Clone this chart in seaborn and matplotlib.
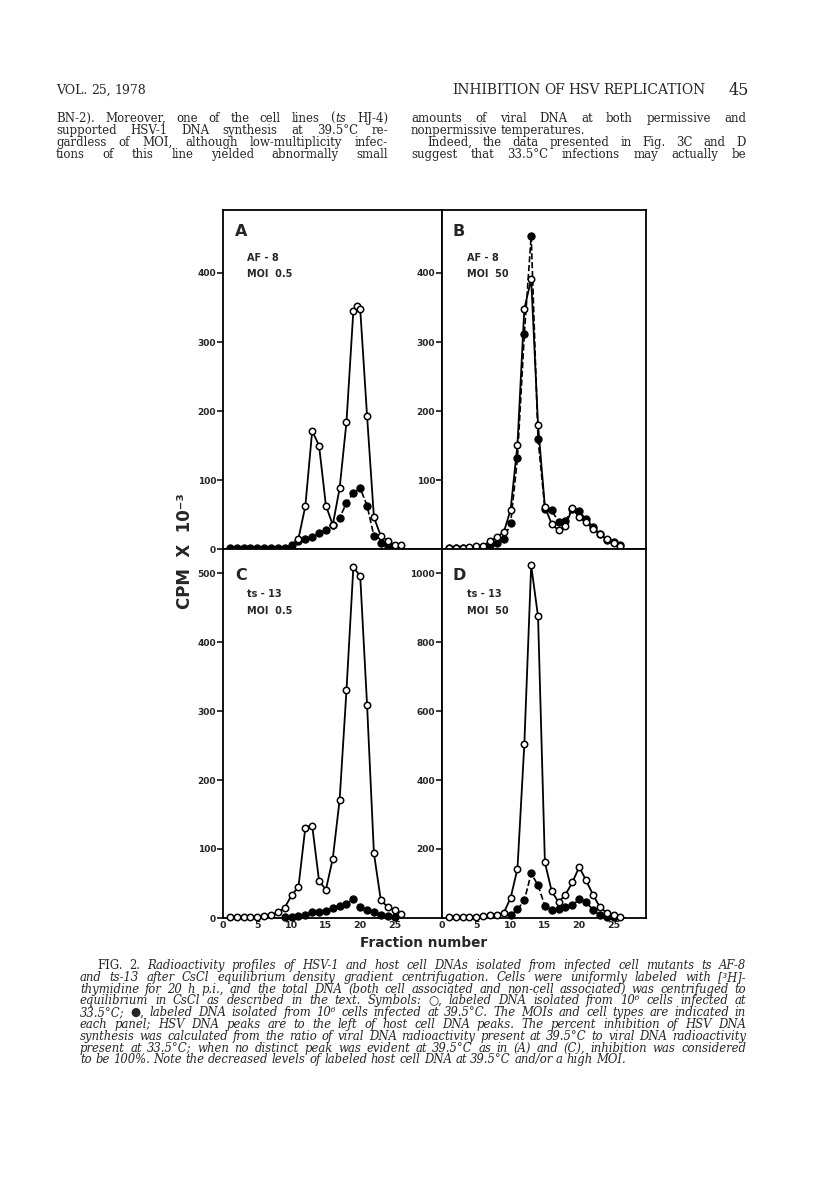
import matplotlib
matplotlib.use("Agg")
import matplotlib.pyplot as plt
import seaborn as sns
import pandas as pd

# ---------------- data ----------------
frac_A_open = [11, 12, 13, 14, 15, 16, 17, 18, 19, 19.5, 20, 21, 22, 23, 24, 25, 26]
cpm_A_open = [15, 62, 171, 150, 63, 35, 88, 184, 345, 352, 348, 193, 46, 19, 12, 6, 6]
frac_A_filled = list(range(1, 26))
cpm_A_filled = [1, 1, 1, 1, 1, 1, 1, 1, 2, 6, 11, 14, 18, 23, 27, 35, 45, 67, 81, 88, 63, 19, 9, 5, 2]

frac_B = list(range(1, 27))
cpm_B_open = [1, 1, 2, 3, 4, 5, 11, 18, 24, 57, 151, 348, 391, 180, 61, 36, 27, 34, 59, 46, 39, 29, 22, 14, 9, 5]
cpm_B_filled = [1, 1, 1, 2, 2, 3, 6, 8, 14, 37, 132, 311, 454, 159, 58, 56, 39, 41, 58, 55, 43, 32, 22, 13, 10, 6]

frac_C_open = list(range(1, 27))
cpm_C_open = [1, 1, 1, 1, 2, 3, 5, 8, 15, 33, 45, 131, 134, 54, 41, 86, 171, 330, 508, 496, 309, 94, 26, 16, 11, 6]
frac_C_filled = list(range(9, 26))
cpm_C_filled = [1, 2, 3, 5, 8, 9, 10, 15, 18, 21, 28, 16, 12, 9, 5, 3, 2]

frac_D_open = list(range(1, 27))
cpm_D_open = [3, 3, 3, 3, 4, 5, 8, 10, 15, 58, 143, 503, 1022, 874, 161, 77, 46, 68, 103, 148, 109, 68, 32, 15, 10, 3]
frac_D_filled = list(range(10, 26))
cpm_D_filled = [8, 25, 51, 129, 95, 35, 22, 27, 32, 37, 54, 46, 24, 8, 3, 2]

yticks_A = [0, 100, 200, 300, 400]
yticks_B = [100, 200, 300, 400]
yticks_C = [0, 100, 200, 300, 400, 500]
yticks_D = [200, 400, 600, 800, 1000]
xticks = [0, 5, 10, 15, 20, 25]

panel_letters = ["A", "B", "C", "D"]
panel_strain = ["AF - 8", "AF - 8", "ts - 13", "ts - 13"]
panel_moi = ["MOI  0.5", "MOI  50", "MOI  0.5", "MOI  50"]

# ---------------- style ----------------
sns.set_theme(style="white")
plt.rcParams["font.family"] = ["DejaVu Sans"]
SERIF = ["DejaVu Serif", "DejaVu Sans"]
SANS = ["DejaVu Sans"]

W, H = 816, 1194
fig = plt.figure(figsize=(W / 100, H / 100), dpi=100)
fig.patch.set_facecolor("white")
renderer = fig.canvas.get_renderer()


def fx(x):
    return x / W


def fy(y):
    return 1 - y / H


def put_line(x0, y, text, x1=None, size=8, family=SERIF, base_italic=False, weight="normal",
             min_gap=2.5, seg_pad=1.2):
    words = [w for w in text.split(" ") if w != ""]
    while True:
        italic = base_italic
        objs, widths = [], []
        for w in words:
            parts = w.split("_")
            wo, ww = [], 0.0
            for i, p in enumerate(parts):
                if i > 0:
                    italic = not italic
                if p:
                    t = fig.text(0, fy(y), p, fontsize=size, family=family,
                                 style="italic" if italic else "normal",
                                 weight=weight, va="baseline", ha="left")
                    wdt = t.get_window_extent(renderer).width
                    if wo:
                        ww += seg_pad
                    wo.append((t, wdt))
                    ww += wdt
            objs.append(wo)
            widths.append(ww)
        total = sum(widths)
        n = len(objs)
        if x1 is not None and n > 1:
            gap = (x1 - x0 - total) / (n - 1)
            if gap < min_gap:
                for wo in objs:
                    for t, _ in wo:
                        t.remove()
                size *= 0.97
                continue
        else:
            gap = size * 100 / 72 * 0.3
        break
    x = x0
    for wo, ww in zip(objs, widths):
        for k, (t, wdt) in enumerate(wo):
            if k > 0:
                x += seg_pad
            t.set_x(fx(x))
            x += wdt
        x += gap


# ---------------- page header and body text ----------------
put_line(56, 94, "VOL. 25, 1978", size=9)
put_line(452, 94, "INHIBITION OF HSV REPLICATION", x1=706, size=10)
put_line(729, 95, "45", size=11.5)

BODY = 8.5
BODY_Y = [122, 134, 146, 158]
left_lines = [
    "BN-2). Moreover, one of the cell lines (_ts_ HJ-4)",
    "supported HSV-1 DNA synthesis at 39.5°C re-",
    "gardless of MOI, although low-multiplicity infec-",
    "tions of this line yielded abnormally small",
]
for ln, yy in zip(left_lines, BODY_Y):
    put_line(56, yy, ln, x1=388, size=BODY)

put_line(411, BODY_Y[0], "amounts of viral DNA at both permissive and", x1=746, size=BODY)
put_line(411, BODY_Y[1], "nonpermissive temperatures.", size=BODY)
put_line(427, BODY_Y[2], "Indeed, the data presented in Fig. 3C and D", x1=746, size=BODY)
put_line(411, BODY_Y[3], "suggest that 33.5°C infections may actually be", x1=746, size=BODY)

# ---------------- caption ----------------
caption = [
    "_FIG. 2._ Radioactivity profiles of HSV-1 and host cell DNAs isolated from infected cell mutants ts AF-8",
    "and ts-13 after CsCl equilibrium density gradient centrifugation. Cells were uniformly labeled with [³H]-",
    "thymidine for 20 h p.i., and the total DNA (both cell associated and non-cell associated) was centrifuged to",
    "equilibrium in CsCl as described in the text. Symbols: _○,_ labeled DNA isolated from 10⁶ cells infected at",
    "33.5°C; _●,_ labeled DNA isolated from 10⁶ cells infected at 39.5°C. The MOIs and cell types are indicated in",
    "each panel; HSV DNA peaks are to the left of host cell DNA peaks. The percent inhibition of HSV DNA",
    "synthesis was calculated from the ratio of viral DNA radioactivity present at 39.5°C to viral DNA radioactivity",
    "present at 33.5°C; when no distinct peak was evident at 39.5°C as in (A) and (C), inhibition was considered",
    "to be 100%. Note the decreased levels of labeled host cell DNA at 39.5°C and/or a high MOI.",
]
cap_y = [969 + 11.8 * i for i in range(len(caption))]
for i, (ln, yy) in enumerate(zip(caption, cap_y)):
    x0 = 97 if i == 0 else 80
    x1 = None if i == len(caption) - 1 else 746
    put_line(x0, yy, ln, x1=x1, size=8.4, base_italic=True)

# ---------------- axes ----------------
L, M, R = 223, 442, 646
T, MID, B = 210, 549, 918
PX_PER_FRAC = 6.86


def px_axes(l, t, r, b):
    return fig.add_axes([fx(l), fy(b), (r - l) / W, (b - t) / H])


axA = px_axes(L, T, M, MID)
axB = px_axes(M, T, R, MID)
axC = px_axes(L, MID, M, B)
axD = px_axes(M, MID, R, B)

panels = [
    (axA, frac_A_open, cpm_A_open, frac_A_filled, cpm_A_filled, 339 / 0.69, yticks_A, False),
    (axB, frac_B, cpm_B_open, frac_B, cpm_B_filled, 339 / 0.69, yticks_B, False),
    (axC, frac_C_open, cpm_C_open, frac_C_filled, cpm_C_filled, 369 / 0.69, yticks_C, True),
    (axD, frac_D_open, cpm_D_open, frac_D_filled, cpm_D_filled, 2 * 369 / 0.69, yticks_D, True),
]

tick_font = dict(family=SANS, weight="bold", size=6.5)

for ax, xo, yo, xf, yf, ymax, yt, show_x in panels:
    ax.set_facecolor("white")
    dfo = pd.DataFrame({"fraction": xo, "cpm": yo})
    dff = pd.DataFrame({"fraction": xf, "cpm": yf})
    sns.lineplot(data=dff, x="fraction", y="cpm", ax=ax, color="black", linewidth=1.2,
                 linestyle="--", marker="o", markersize=5.2, markerfacecolor="black",
                 markeredgecolor="black", markeredgewidth=0.8, estimator=None, sort=False,
                 clip_on=False, zorder=3)
    sns.lineplot(data=dfo, x="fraction", y="cpm", ax=ax, color="black", linewidth=1.3,
                 marker="o", markersize=4.6, markerfacecolor="white",
                 markeredgecolor="black", markeredgewidth=1.1, estimator=None, sort=False,
                 clip_on=False, zorder=4)
    pw = ax.get_position().width * W
    ax.set_xlim(0, pw / PX_PER_FRAC)
    ax.set_ylim(0, ymax)
    ax.set_xlabel("")
    ax.set_ylabel("")
    ax.set_xticks(xticks)
    ax.set_yticks(yt)
    ax.set_yticklabels([str(v) for v in yt], fontdict=tick_font)
    if show_x:
        ax.set_xticklabels([str(v) for v in xticks], fontdict=dict(family=SANS, weight="bold", size=6.8))
    else:
        ax.set_xticklabels([])
    ax.tick_params(axis="x", direction="in", length=5, width=1.1, pad=2, color="black")
    ax.tick_params(axis="y", direction="out", length=4, width=1.1, pad=1, color="black",
                   left=True)
    for sp in ax.spines.values():
        sp.set_color("black")
        sp.set_linewidth(1.3)
        sp.set_visible(True)
    ax.grid(False)

# panel annotations: (letter x, letter top y, label x, strain y, moi y)
ann = [(235, 224, 247, 258, 274), (453, 224, 467, 258, 274),
       (235, 568, 247, 594, 611), (453, 568, 467, 594, 611)]
for (lx, ly, tx, sy, my), letter, strain, moi in zip(ann, panel_letters, panel_strain, panel_moi):
    fig.text(fx(lx), fy(ly), letter, fontsize=11.5, family=SANS, weight="bold", va="top", ha="left")
    fig.text(fx(tx), fy(sy), strain, fontsize=7, family=SANS, weight="bold",
             va="center", ha="left")
    fig.text(fx(tx), fy(my), moi, fontsize=7, family=SANS, weight="bold",
             va="center", ha="left")

# axis titles
fig.text(fx(185), fy(551), "CPM  X  10⁻³", rotation=90, fontsize=12, family=SANS,
         weight="bold", ha="center", va="center")
fig.text(fx(424), fy(943), "Fraction number", fontsize=9.8, family=SANS,
         weight="bold", ha="center", va="center")

fig.savefig("out.png", dpi=100, facecolor="white")
